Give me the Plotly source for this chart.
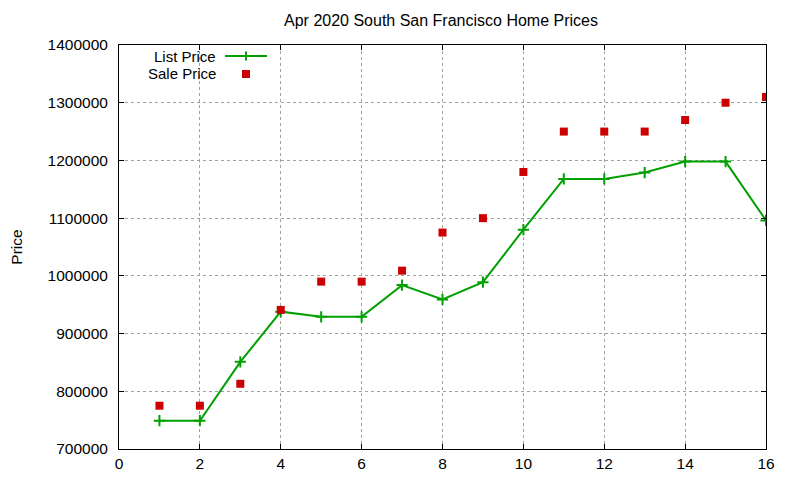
import plotly.graph_objects as go

months = list(range(1, 17))
list_price = [749000, 749000, 851000, 938000, 929000, 929000, 984000, 959000,
              989000, 1080000, 1168000, 1168000, 1179000, 1198000, 1198000, 1096000]
sale_price = [775000, 775000, 813000, 941000, 990000, 990000, 1009000, 1075000,
              1100000, 1180000, 1250000, 1250000, 1250000, 1270000, 1300000, 1310000]
x_ticks = list(range(0, 17, 2))
y_ticks = list(range(700000, 1400001, 100000))

GREEN = "#00a000"
RED = "#cc0000"
FONT = "Liberation Sans, Arial, sans-serif"

# page offset (browser body margin)
OFF = 8
W, H = 800, 480
# plot-area edges in screen pixels
SL, SR, ST, SB = 119, 766, 45, 449
L, T = SL - OFF, ST - OFF
R = W - (SR - OFF)
B = H - (SB - OFF)
pw, ph = W - L - R, H - T - B


def px(xs):
    return (xs - OFF - L) / pw


def py(ys):
    return 1 - (ys - OFF - T) / ph


fig = go.Figure()
fig.add_trace(go.Scatter(
    x=months, y=list_price, mode="lines+markers", name="List Price",
    line=dict(color=GREEN, width=2),
    marker=dict(symbol="cross-thin", size=8, color=GREEN,
                line=dict(color=GREEN, width=2)),
    showlegend=False))
fig.add_trace(go.Scatter(
    x=months, y=sale_price, mode="markers", name="Sale Price",
    marker=dict(symbol="square", size=8, color=RED, line=dict(width=0)),
    showlegend=False))

y1, y2 = 56, 74
shapes = [
    dict(type="line", xref="paper", yref="paper", x0=px(225), x1=px(267),
         y0=py(y1), y1=py(y1), line=dict(color=GREEN, width=2)),
    dict(type="line", xref="paper", yref="paper", x0=px(246), x1=px(246),
         y0=py(y1 - 4.5), y1=py(y1 + 4.5), line=dict(color=GREEN, width=2)),
    dict(type="rect", xref="paper", yref="paper", x0=px(242), x1=px(250),
         y0=py(y2 - 4), y1=py(y2 + 4), line=dict(width=0), fillcolor=RED),
]
annotations = [
    dict(text=name, xref="paper", yref="paper",
         x=px(217), y=py(yy), xanchor="right", yanchor="middle",
         showarrow=False, borderpad=0,
         font=dict(size=15, color="black", family=FONT))
    for name, yy in (("List Price", y1), ("Sale Price", y2))
]

axis_common = dict(
    showline=True, linecolor="black", linewidth=1, mirror="allticks",
    ticks="inside", ticklen=5, tickcolor="black", tickwidth=1,
    showgrid=True, gridcolor="#a0a0a0", griddash="dot", gridwidth=1,
    zeroline=False, automargin=False,
    tickfont=dict(size=15.5, color="black", family=FONT),
)

fig.update_layout(
    width=W, height=H,
    margin=dict(l=L, r=R, t=T, b=B, pad=0, autoexpand=False),
    paper_bgcolor="white", plot_bgcolor="white",
    font=dict(family=FONT, color="black"),
    title=dict(text="Apr 2020 South San Francisco Home Prices",
               x=px(441), xref="paper", xanchor="center",
               y=1 - (20 - OFF) / H, yanchor="middle",
               font=dict(size=16, color="black", family=FONT)),
    xaxis=dict(range=[0, 16], tickvals=x_ticks, **axis_common),
    yaxis=dict(range=[700000, 1400000], tickvals=y_ticks, tickformat="d",
               ticklabelstandoff=7,
               title=dict(text="Price", standoff=21,
                          font=dict(size=15.5, color="black", family=FONT)),
               **axis_common),
    shapes=shapes, annotations=annotations,
)

fig.write_html("out.html")
